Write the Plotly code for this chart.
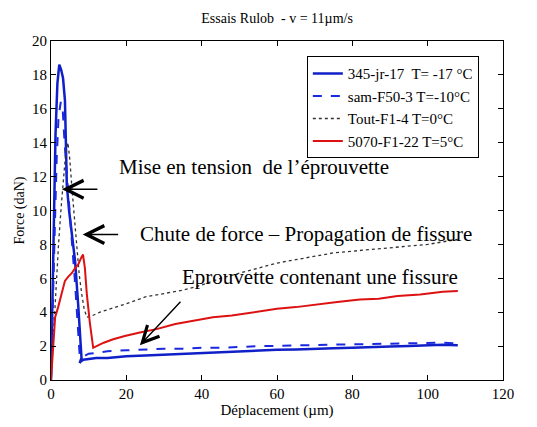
import plotly.graph_objects as go

# 345-jr-17  T= -17 °C (blue solid)
x_s1 = [0, 0.3, 0.7, 1.2, 1.7, 2.2, 2.7, 3.2, 3.7, 4.2, 4.8, 5.5, 6.4, 7.2, 7.8, 8.1, 7.6, 7.9, 8.6, 10, 12, 15, 20, 25, 30, 35, 40, 45, 50, 55, 60, 65, 70, 75, 80, 85, 90, 95, 100, 104, 108]
y_s1 = [0, 3.5, 9, 14.5, 17.5, 18.6, 18.3, 17.8, 16.5, 11.5, 10.0, 8.8, 7.0, 4.5, 2.5, 1.3, 1.0, 1.1, 1.2, 1.25, 1.3, 1.3, 1.4, 1.45, 1.5, 1.55, 1.6, 1.62, 1.68, 1.72, 1.78, 1.8, 1.85, 1.88, 1.9, 1.95, 1.98, 2.0, 2.05, 2.08, 2.05]

# sam-F50-3 T=-10°C (blue dashed)
x_s2 = [0, 0.4, 0.9, 1.5, 2.0, 2.6, 3.1, 3.6, 4.2, 4.9, 5.6, 6.3, 6.9, 7.4, 7.6, 8.0, 9, 10, 12, 15, 20, 25, 30, 35, 40, 45, 50, 55, 60, 65, 70, 75, 80, 85, 90, 95, 100, 104, 108]
y_s2 = [0, 3, 8, 13, 15.5, 16.4, 16.0, 14.0, 12.0, 10.0, 8.0, 6.0, 4.0, 2.2, 1.5, 1.3, 1.45, 1.55, 1.6, 1.7, 1.75, 1.8, 1.85, 1.85, 1.9, 1.9, 1.95, 2.0, 2.0, 2.05, 2.05, 2.1, 2.1, 2.12, 2.15, 2.15, 2.18, 2.2, 2.15]

# Tout-F1-4 T=0°C (dotted)
x_s3 = [0, 0.6, 1.3, 2.0, 2.7, 3.3, 3.9, 4.5, 5.0, 5.6, 6.2, 6.8, 7.5, 8.2, 8.8, 9.5, 11, 13, 16, 20, 25, 30, 35, 40, 45, 50, 55, 60, 65, 70, 75, 80, 85, 90, 95, 100, 104, 108]
y_s3 = [0, 2.5, 5.5, 8.0, 10.2, 12.0, 13.4, 14.0, 13.0, 11.2, 9.5, 7.8, 6.2, 5.0, 4.2, 3.7, 3.8, 4.0, 4.2, 4.5, 4.9, 5.1, 5.3, 5.6, 6.0, 6.3, 6.6, 6.9, 7.1, 7.3, 7.5, 7.6, 7.7, 7.8, 7.9, 8.0, 8.15, 8.3]

# 5070-F1-22 T=5°C (red)
x_s4 = [0, 0.2, 0.6, 1.1, 1.9, 2.8, 3.7, 4.6, 5.5, 6.4, 7.2, 8.0, 8.5, 9.0, 9.5, 10.3, 11.2, 12.1, 14, 16.5, 19.6, 23.6, 28, 33, 38, 43, 48, 54, 60, 65, 70, 76, 82, 87, 92, 98, 104, 108]
y_s4 = [0, 0.7, 2.6, 3.7, 4.3, 5.1, 5.85, 6.1, 6.3, 6.6, 6.8, 7.2, 7.4, 6.6, 5.1, 3.4, 1.9, 2.0, 2.2, 2.4, 2.6, 2.8, 3.0, 3.3, 3.5, 3.7, 3.8, 4.0, 4.2, 4.3, 4.45, 4.6, 4.75, 4.8, 4.95, 5.05, 5.2, 5.25]

series_names = ["345-jr-17  T= -17 °C", "sam-F50-3 T=-10°C", "Tout-F1-4 T=0°C", "5070-F1-22 T=5°C"]

x_ticks = [0, 20, 40, 60, 80, 100, 120]
y_ticks = [0, 2, 4, 6, 8, 10, 12, 14, 16, 18, 20]

font_family = "Liberation Serif, Times New Roman, serif"

fig = go.Figure()
fig.add_trace(go.Scatter(x=x_s1, y=y_s1, mode="lines", name=series_names[0],
                         line=dict(color="#1020c8", width=2.5)))
fig.add_trace(go.Scatter(x=x_s2, y=y_s2, mode="lines", name=series_names[1],
                         line=dict(color="#1a28e0", width=2, dash="dash")))
fig.add_trace(go.Scatter(x=x_s3, y=y_s3, mode="lines", name=series_names[2],
                         line=dict(color="#333333", width=1.3, dash="dot")))
fig.add_trace(go.Scatter(x=x_s4, y=y_s4, mode="lines", name=series_names[3],
                         line=dict(color="#dd1111", width=2)))

axis_common = dict(showline=True, linecolor="black", linewidth=1, mirror="ticks",
                   ticks="inside", ticklen=5, tickcolor="black", showgrid=False,
                   zeroline=False, tickfont=dict(family=font_family, size=15, color="black"))

fig.update_layout(
    width=537, height=427,
    margin=dict(l=51, r=34, t=41, b=34),
    paper_bgcolor="white", plot_bgcolor="white",
    font=dict(family=font_family, color="black"),
    title=dict(text="Essais Rulob  - v = 11µm/s", x=0.516, xanchor="center", y=0.958, yanchor="middle",
               font=dict(family=font_family, size=14, color="black")),
    xaxis=dict(range=[0, 120], tickvals=x_ticks,
               title=dict(text="Déplacement (µm)", font=dict(family=font_family, size=15), standoff=2),
               **axis_common),
    yaxis=dict(range=[0, 20], tickvals=y_ticks,
               title=dict(text="Force (daN)", font=dict(family=font_family, size=14), standoff=4),
               **axis_common),
    legend=dict(x=0.566, y=0.955, xanchor="left", yanchor="top",
                bgcolor="white", bordercolor="black", borderwidth=1,
                font=dict(family=font_family, size=15, color="black"),
                tracegroupgap=0, itemwidth=30),
    showlegend=True,
)

fig.add_annotation(x=53.9, y=12.56, xref="x", yref="y", text="Mise en tension  de l’éprouvette",
                   showarrow=False, font=dict(family=font_family, size=21, color="black"))
fig.add_annotation(x=67.7, y=8.6, xref="x", yref="y", text="Chute de force – Propagation de fissure",
                   showarrow=False, font=dict(family=font_family, size=21, color="black"))
fig.add_annotation(x=71.4, y=6.05, xref="x", yref="y", text="Eprouvette contenant une fissure",
                   showarrow=False, font=dict(family=font_family, size=21, color="black"))

fig.add_annotation(x=2.9, y=11.25, xref="x", yref="y", text="", showarrow=True,
                   ax=37, ay=0, arrowhead=5, arrowsize=2.5, arrowwidth=1.4, arrowcolor="black")
fig.add_annotation(x=8.4, y=8.58, xref="x", yref="y", text="", showarrow=True,
                   ax=37, ay=0, arrowhead=5, arrowsize=2.5, arrowwidth=1.4, arrowcolor="black")
fig.add_annotation(x=23.6, y=2.05, xref="x", yref="y", text="", showarrow=True,
                   ax=42, ay=-45, arrowhead=5, arrowsize=2.3, arrowwidth=1.4, arrowcolor="black")

fig.write_html("out.html")
